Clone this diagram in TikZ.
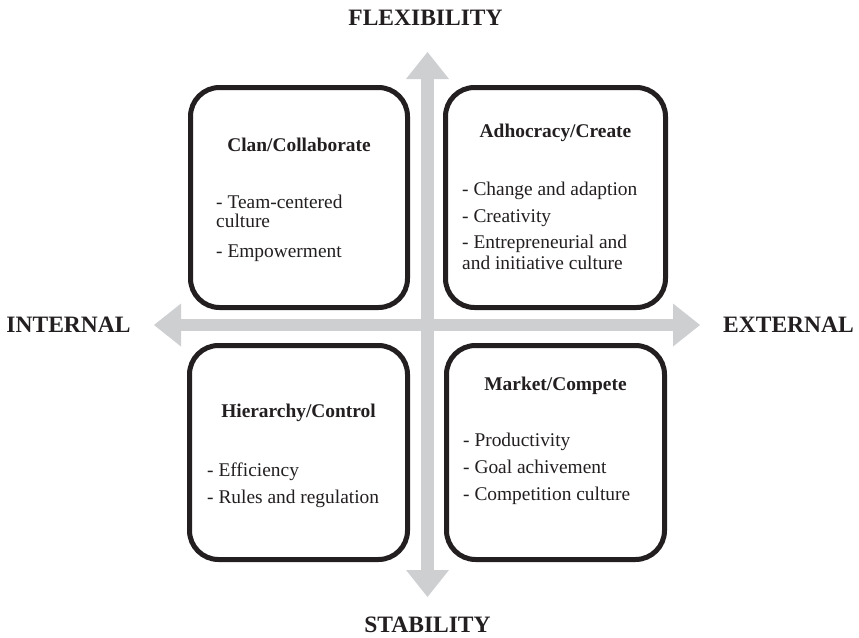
\documentclass[tikz,border=0pt]{standalone}
\usepackage{fontspec}
\setmainfont{Liberation Serif}
\usetikzlibrary{arrows.meta}

\definecolor{ink}{RGB}{35,31,32}
\definecolor{axisgray}{RGB}{206,207,209}

\tikzset{
  quadbox/.style={draw=ink, line width=5pt, fill=white, rounded corners=29pt,
                  inner sep=0pt},
  quadtitle/.style={anchor=base, inner sep=0pt, text=ink,
                    font=\fontsize{19.4}{20.5}\selectfont\bfseries},
  item/.style={anchor=base west, inner sep=0pt, text=ink,
               font=\fontsize{19.4}{20.5}\selectfont},
  axislabel/.style={anchor=base, inner sep=0pt, text=ink,
                    font=\fontsize{23.5}{26}\selectfont\bfseries},
  axisarrow/.style={draw=axisgray, line width=12.5pt,
    {Triangle[length=27pt, width=43pt, line width=0pt]}-{Triangle[length=27pt, width=43pt, line width=0pt]}},
}

\begin{document}
\begin{tikzpicture}[x=1pt, y=-1pt]
  \useasboundingbox (0,0) rectangle (859,637);

  % axis end points
  \coordinate (N) at (427.5,52);
  \coordinate (S) at (427.5,597);
  \coordinate (W) at (154,325);
  \coordinate (E) at (700,325);

  % the two double-headed axes
  \draw[axisarrow] (W) -- (E);
  \draw[axisarrow] (S) -- (N);

  % axis labels
  \node[axislabel] (flex)  at (425.5,25)  {FLEXIBILITY};
  \node[axislabel] (stab)  at (427.5,632) {STABILITY};
  \node[axislabel] (int)   at (68.5,332)  {INTERNAL};
  \node[axislabel] (ext)   at (788.5,332) {EXTERNAL};

  % the four quadrants
  \node[quadbox, minimum width=217pt, minimum height=220pt] (clan) at (299,197.5) {};
  \node[quadbox, minimum width=220pt, minimum height=220pt] (adho) at (555.5,197.5) {};
  \node[quadbox, minimum width=218pt, minimum height=214pt] (hier) at (298.5,452.5) {};
  \node[quadbox, minimum width=218pt, minimum height=214pt] (mark) at (555.5,452.5) {};

  % Clan / Collaborate
  \node[quadtitle] (clanT) at (299,151) {Clan/Collaborate};
  \node[item] (clan1) at (216,208) {- Team-centered};
  \node[item] (clan2) at (216,227) {culture};
  \node[item] (clan3) at (216,257) {- Empowerment};

  % Adhocracy / Create
  \node[quadtitle] (adhoT) at (555.5,137) {Adhocracy/Create};
  \node[item] (adho1) at (462,195)   {- Change and adaption};
  \node[item] (adho2) at (462,222)   {- Creativity};
  \node[item] (adho3) at (462,248.5) {- Entrepreneurial and};
  \node[item] (adho4) at (462,269)   {and initiative culture};

  % Hierarchy / Control
  \node[quadtitle] (hierT) at (298.5,417) {Hierarchy/Control};
  \node[item] (hier1) at (207,476.5) {- Efficiency};
  \node[item] (hier2) at (207,503.5) {- Rules and regulation};

  % Market / Compete
  \node[quadtitle] (markT) at (555.5,390) {Market/Compete};
  \node[item] (mark1) at (463,446.5) {- Productivity};
  \node[item] (mark2) at (463,473.5) {- Goal achivement};
  \node[item] (mark3) at (463,500.5) {- Competition culture};
\end{tikzpicture}
\end{document}
